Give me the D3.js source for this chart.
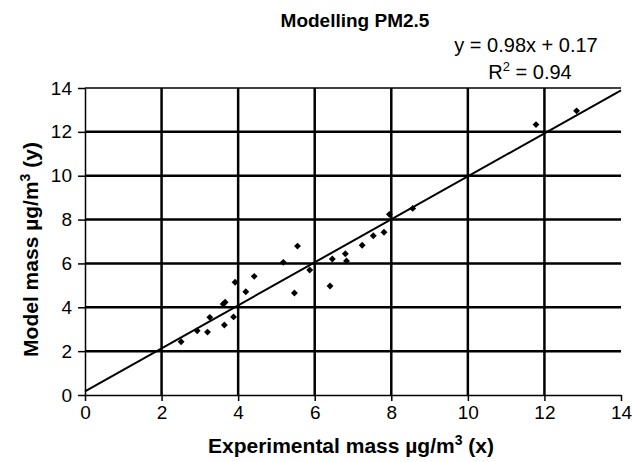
<!DOCTYPE html>
<html>
<head>
<meta charset="utf-8">
<script src="https://cdn.jsdelivr.net/npm/d3@7"></script>
<style>
  body { margin: 0; background: #fff; }
  text { font-family: "Liberation Sans", Arial, sans-serif; fill: #000; }
</style>
</head>
<body>
<svg width="632" height="462"></svg>
<script>
// experimental (x) vs model (y) mass, µg/m3
const expMass = [2.51, 2.93, 3.20, 3.26, 3.64, 3.61, 3.66, 3.88, 3.92, 4.20, 4.42,
                 5.18, 5.55, 5.47, 5.87, 6.40, 6.46, 6.80, 6.83, 7.24, 7.53, 7.81, 7.95, 8.56,
                 11.78, 12.84];
const modelMass = [2.43, 2.93, 2.87, 3.54, 3.19, 4.15, 4.23, 3.56, 5.14, 4.71, 5.41,
                   6.05, 6.79, 4.65, 5.70, 4.97, 6.20, 6.44, 6.11, 6.83, 7.26, 7.42, 8.24, 8.51,
                   12.33, 12.96];
const fitSlope = 0.98, fitIntercept = 0.17;
const xTicks = [0, 2, 4, 6, 8, 10, 12, 14];
const yTicks = [0, 2, 4, 6, 8, 10, 12, 14];

const svg = d3.select("svg"),
    margin = { top: 88, right: 11, bottom: 67, left: 85 },
    width = +svg.attr("width") - margin.left - margin.right,
    height = +svg.attr("height") - margin.top - margin.bottom;

const g = svg.append("g").attr("transform", `translate(${margin.left},${margin.top})`);

const x = d3.scaleLinear().domain([0, 14]).range([0, width]);
const y = d3.scaleLinear().domain([0, 14]).range([height, 0]);

// grid
g.selectAll(".hgrid").data(yTicks.filter(d => d > 0)).enter().append("line")
    .attr("x1", 0).attr("x2", width)
    .attr("y1", d => y(d)).attr("y2", d => y(d))
    .attr("stroke", "#000")
    .attr("stroke-width", d => d === 14 ? 1.5 : 2.5);

g.selectAll(".vgrid").data(xTicks.filter(d => d > 0 && d < 14)).enter().append("line")
    .attr("y1", 0).attr("y2", height)
    .attr("x1", d => x(d)).attr("x2", d => x(d))
    .attr("stroke", "#000")
    .attr("stroke-width", 2.5);

// axes
const xAxis = g.append("g")
    .attr("transform", `translate(0,${height})`)
    .call(d3.axisBottom(x).tickValues(xTicks).tickSizeInner(6).tickSizeOuter(0).tickPadding(5));
const yAxis = g.append("g")
    .call(d3.axisLeft(y).tickValues(yTicks).tickSizeInner(7).tickSizeOuter(0).tickPadding(6));

[xAxis, yAxis].forEach(a => {
    a.select(".domain").attr("stroke", "#000").attr("stroke-width", 1.5);
    a.selectAll(".tick line").attr("stroke", "#000").attr("stroke-width", 1.5);
    a.selectAll(".tick text").style("font", "19px 'Liberation Sans', Arial, sans-serif").attr("fill", "#000");
});

// fitted line
g.append("line")
    .attr("x1", x(0)).attr("y1", y(fitIntercept))
    .attr("x2", x(14)).attr("y2", y(fitSlope * 14 + fitIntercept))
    .attr("stroke", "#000").attr("stroke-width", 2);

// points as diamonds
const pts = expMass.map((v, i) => ({ x: v, y: modelMass[i] }));
g.selectAll(".pt").data(pts).enter().append("path")
    .attr("transform", d => `translate(${x(d.x)},${y(d.y)})`)
    .attr("d", d3.symbol(d3.symbolDiamond2, 30))
    .attr("fill", "#000");

// titles
svg.append("text")
    .attr("x", 355).attr("y", 27)
    .attr("text-anchor", "middle")
    .style("font", "bold 19px 'Liberation Sans', Arial, sans-serif")
    .text("Modelling PM2.5");

svg.append("text")
    .attr("x", 526).attr("y", 52)
    .attr("text-anchor", "middle")
    .style("font", "20px 'Liberation Sans', Arial, sans-serif")
    .text(`y = ${fitSlope}x + ${fitIntercept}`);

const r2 = svg.append("text")
    .attr("x", 530).attr("y", 79)
    .attr("text-anchor", "middle")
    .style("font", "20px 'Liberation Sans', Arial, sans-serif");
r2.append("tspan").text("R");
r2.append("tspan").attr("dy", -8).style("font-size", "13px").text("2");
r2.append("tspan").attr("dy", 8).text(" = 0.94");

const xt = svg.append("text")
    .attr("x", 351).attr("y", 453)
    .attr("text-anchor", "middle")
    .style("font", "bold 21px 'Liberation Sans', Arial, sans-serif");
xt.append("tspan").text("Experimental mass µg/m");
xt.append("tspan").attr("dy", -8).style("font-size", "14px").text("3");
xt.append("tspan").attr("dy", 8).text(" (x)");

const yt = svg.append("text")
    .attr("transform", `translate(38,${margin.top + height / 2 + 8}) rotate(-90)`)
    .attr("text-anchor", "middle")
    .style("font", "bold 21px 'Liberation Sans', Arial, sans-serif");
yt.append("tspan").text("Model mass µg/m");
yt.append("tspan").attr("dy", -8).style("font-size", "14px").text("3");
yt.append("tspan").attr("dy", 8).text(" (y)");
</script>
</body>
</html>
